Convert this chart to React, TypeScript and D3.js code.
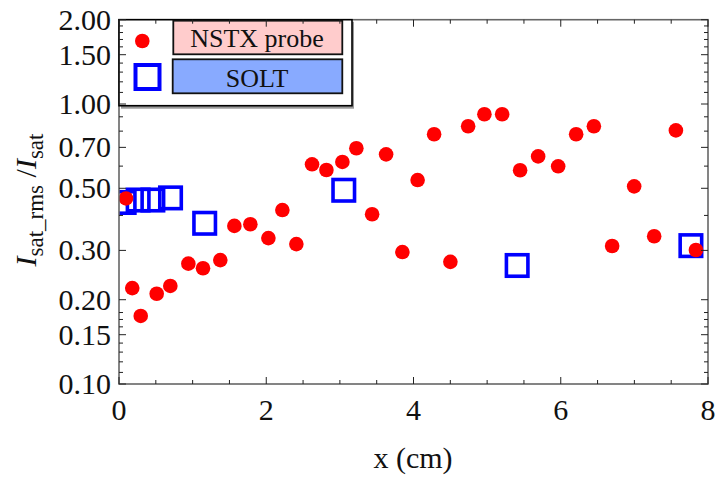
import React from "react";
import * as d3 from "d3";

const probeX = [0.095, 0.18, 0.295, 0.512, 0.697, 0.942, 1.141, 1.376, 1.567, 1.784, 2.029, 2.219, 2.409, 2.622, 2.817, 3.034, 3.224, 3.438, 3.628, 3.849, 4.056, 4.28, 4.501, 4.742, 4.963, 5.204, 5.448, 5.693, 5.965, 6.209, 6.45, 6.698, 6.997, 7.269, 7.564, 7.836];
const probeY = [0.46, 0.22, 0.175, 0.21, 0.224, 0.269, 0.259, 0.277, 0.367, 0.372, 0.332, 0.418, 0.316, 0.609, 0.581, 0.621, 0.695, 0.404, 0.661, 0.296, 0.535, 0.78, 0.273, 0.833, 0.919, 0.919, 0.58, 0.65, 0.599, 0.78, 0.833, 0.311, 0.508, 0.337, 0.805, 0.301];

const soltX = [0.07, 0.26, 0.46, 0.7, 1.164, 3.053, 5.408, 7.768];
const soltY = [0.445, 0.454, 0.454, 0.462, 0.375, 0.492, 0.265, 0.312];

const yMajor = [0.1, 0.15, 0.2, 0.3, 0.5, 0.7, 1.0, 1.5, 2.0];
const yMinor = [0.11, 0.12, 0.13, 0.14, 0.16, 0.17, 0.18, 0.4, 0.6, 0.8, 0.9, 1.1, 1.2, 1.3, 1.4, 1.6, 1.7, 1.8, 1.9];
const xMajor = [0, 2, 4, 6, 8];
const xMinor = [0.5, 1, 1.5, 2.5, 3, 3.5, 4.5, 5, 5.5, 6.5, 7, 7.5];

const legendLabels = ["NSTX probe", "SOLT"];

const W = 717;
const H = 478;
const L = 119;
const R = 708;
const B = 384;

export default function App() {
  const x = d3.scaleLinear().domain([0, 8]).range([L, R]);
  const y = d3.scaleLog().domain([0.1, 2.0]).range([B, B - 280 * Math.log10(20)]);
  const T = y(2.0);
  const font = "'Liberation Serif', 'Times New Roman', serif";
  const frame = "#666";
  const sq = 21.5;

  return (
    <svg width={W} height={H} style={{ position: "absolute", left: 0, top: 0, background: "#fff" }} fontFamily={font}>
      <defs>
        <clipPath id="plotclip">
          <rect x={L} y={T} width={R - L} height={B - T} />
        </clipPath>
      </defs>
      <rect x={0} y={0} width={W} height={H} fill="#fff" />
      {/* data */}
      <g clipPath="url(#plotclip)">
        {soltX.map((v, i) => (
          <rect key={"s" + i} x={x(v) - sq / 2} y={y(soltY[i]) - sq / 2} width={sq} height={sq} fill="none" stroke="#0000ff" strokeWidth={3.6} />
        ))}
        {probeX.map((v, i) => (
          <circle key={"p" + i} cx={x(v)} cy={y(probeY[i])} r={7.3} fill="#ff0000" />
        ))}
      </g>
      {/* frame */}
      <rect x={L} y={T} width={R - L} height={B - T} fill="none" stroke={frame} strokeWidth={1.6} />
      {/* legend */}
      <g>
        <rect x={121} y={T + 2} width={233} height={87} fill="#999" />
        <rect x={L} y={T} width={233} height={86} fill="#fff" stroke="#000" strokeWidth={1.6} />
        <circle cx={142.3} cy={41} r={7.3} fill="#ff0000" />
        <rect x={135.5} y={65} width={24} height={24} fill="none" stroke="#0000ff" strokeWidth={4} />
        <rect x={173.3} y={20.7} width={169} height={33.6} fill="#ffcccc" stroke="#111" strokeWidth={1.8} />
        <rect x={172.7} y={59.3} width={169.6} height={34} fill="#88aaff" stroke="#111" strokeWidth={1.8} />
        <text x={257} y={46.5} fontSize={26} textAnchor="middle" fill="#111">{legendLabels[0]}</text>
        <text x={257} y={86.5} fontSize={26} textAnchor="middle" fill="#111">{legendLabels[1]}</text>
      </g>
      {/* ticks */}
      <g stroke="#222" strokeWidth={1}>
        {yMajor.map((v) => (
          <g key={"ym" + v}>
            <line x1={L} x2={L + 7} y1={y(v)} y2={y(v)} />
            <line x1={R} x2={R - 7} y1={y(v)} y2={y(v)} />
          </g>
        ))}
        {yMinor.map((v) => (
          <g key={"yn" + v}>
            <line x1={L} x2={L + 4} y1={y(v)} y2={y(v)} />
            <line x1={R} x2={R - 4} y1={y(v)} y2={y(v)} />
          </g>
        ))}
        {xMajor.map((v) => (
          <g key={"xm" + v}>
            <line x1={x(v)} x2={x(v)} y1={B} y2={B - 7} />
            <line x1={x(v)} x2={x(v)} y1={T} y2={T + 7} />
          </g>
        ))}
        {xMinor.map((v) => (
          <g key={"xn" + v}>
            <line x1={x(v)} x2={x(v)} y1={B} y2={B - 4} />
            <line x1={x(v)} x2={x(v)} y1={T} y2={T + 4} />
          </g>
        ))}
      </g>
      {/* tick labels */}
      <g fontSize={30} fill="#111">
        {yMajor.map((v) => (
          <text key={"yl" + v} x={111} y={y(v)} dy="0.33em" textAnchor="end">{d3.format(".2f")(v)}</text>
        ))}
        {xMajor.map((v) => (
          <text key={"xl" + v} x={x(v)} y={420} textAnchor="middle">{v}</text>
        ))}
      </g>
      {/* axis labels */}
      <text x={413} y={468} fontSize={30} textAnchor="middle" fill="#111">x (cm)</text>
      <text transform="translate(36,200) rotate(-90)" fontSize={30} textAnchor="middle" fill="#111">
        <tspan fontStyle="italic">I</tspan>
        <tspan fontSize={23} dy={7}>sat_rms</tspan>
        <tspan dy={-7}> /</tspan>
        <tspan fontStyle="italic">I</tspan>
        <tspan fontSize={23} dy={7}>sat</tspan>
      </text>
    </svg>
  );
}
